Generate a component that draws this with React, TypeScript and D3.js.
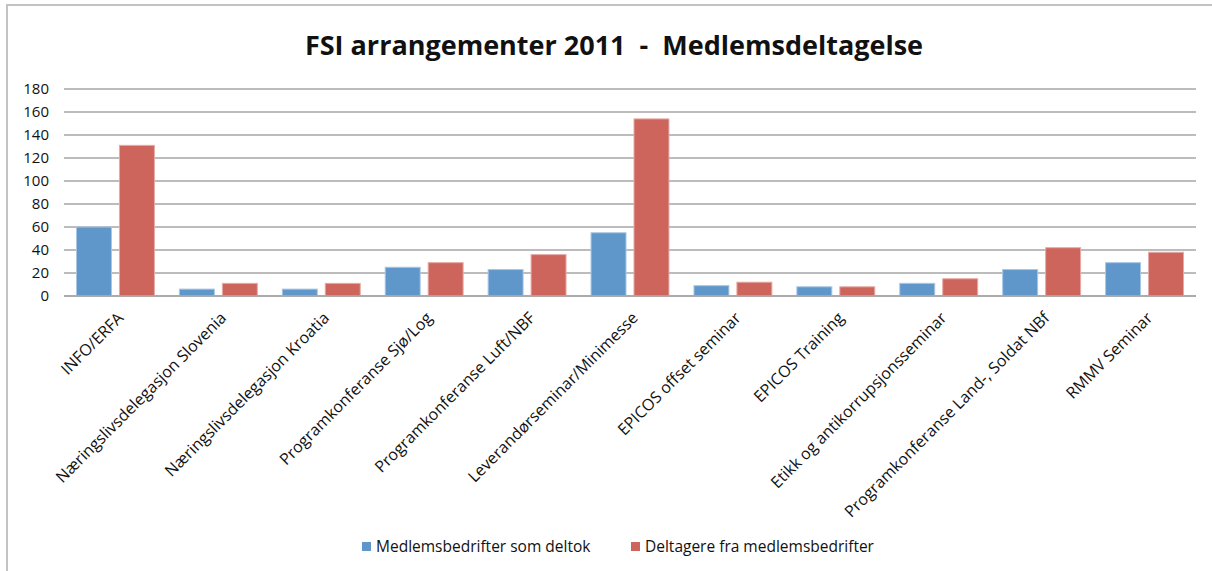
import React, { useEffect } from "react";
import * as d3 from "d3";

const categories = [
  "INFO/ERFA",
  "Næringslivsdelegasjon Slovenia",
  "Næringslivsdelegasjon Kroatia",
  "Programkonferanse Sjø/Log",
  "Programkonferanse Luft/NBF",
  "Leverandørseminar/Minimesse",
  "EPICOS offset seminar",
  "EPICOS Training",
  "Etikk og antikorrupsjonsseminar",
  "Programkonferanse Land-, Soldat NBf",
  "RMMV Seminar",
];
const seriesNames = ["Medlemsbedrifter som deltok", "Deltagere fra medlemsbedrifter"];
const medlemsbedrifter = [60, 6, 6, 25, 23, 55, 9, 8, 11, 23, 29];
const deltagere = [131, 11, 11, 29, 36, 154, 12, 8, 15, 42, 38];
const yTicks = [0, 20, 40, 60, 80, 100, 120, 140, 160, 180];
const title = "FSI arrangementer 2011  -  Medlemsdeltagelse";

const W = 1212;
const H = 571;
const colors = ["#5f97ca", "#cd655d"];
const strokes = ["#a9c6e4", "#e6aaa5"];
const FONT = "'Open Sans', 'DejaVu Sans', sans-serif";

export default function App() {
  useEffect(() => {
    document.body.style.margin = "0";
  }, []);

  const x0 = d3.scaleBand<string>().domain(categories).range([64, 1196]).padding(0);
  const step = x0.step();
  const x1 = d3
    .scaleBand<string>()
    .domain(["a", "b"])
    .range([12.5, step - 12.5])
    .paddingInner(0.186)
    .paddingOuter(0);
  const y = d3.scaleLinear().domain([0, 180]).range([296, 89]);
  const series = [medlemsbedrifter, deltagere];
  const keys = ["a", "b"];
  const legendX = [362, 631];

  return (
    <svg width={W} height={H} style={{ display: "block", background: "#fff" }}>
      {/* frame */}
      <line x1={6} x2={W} y1={5} y2={5} stroke="#c3c3c3" strokeWidth={2} />
      <line x1={7} x2={7} y1={5} y2={H} stroke="#c3c3c3" strokeWidth={2} />

      <text
        x={614}
        y={55}
        textAnchor="middle"
        fontFamily={FONT}
        fontWeight="bold"
        fontSize={27}
        fill="#111"
        style={{ whiteSpace: "pre" }}
        xmlSpace="preserve"
      >
        {title}
      </text>

      {/* gridlines */}
      {yTicks.map((t) => (
        <g key={t}>
          <line
            x1={64}
            x2={1196}
            y1={y(t)}
            y2={y(t)}
            stroke="#a6a6a6"
            strokeWidth={1.5}
          />
          <text
            x={49}
            y={y(t)}
            dy="0.36em"
            textAnchor="end"
            fontFamily={FONT}
            fontSize={15}
            fill="#111"
          >
            {t}
          </text>
        </g>
      ))}

      {/* bars */}
      {categories.map((c, i) => (
        <g key={c} transform={`translate(${x0(c)},0)`}>
          {series.map((s, j) => (
            <rect
              key={j}
              x={x1(keys[j])}
              y={y(s[i])}
              width={x1.bandwidth()}
              height={y(0) - y(s[i])}
              fill={colors[j]}
              stroke={strokes[j]}
              strokeWidth={1}
            />
          ))}
        </g>
      ))}

      {/* axis line */}
      <line x1={64} x2={1196} y1={y(0)} y2={y(0)} stroke="#a6a6a6" strokeWidth={1.5} />

      {/* x labels */}
      {categories.map((c) => {
        const cx = (x0(c) as number) + step / 2;
        return (
          <text
            key={c}
            transform={`translate(${cx + 5},${315}) rotate(-45)`}
            textAnchor="end"
            dy="0.35em"
            fontFamily={FONT}
            fontSize={16}
            fill="#111"
          >
            {c}
          </text>
        );
      })}

      {/* legend */}
      {seriesNames.map((n, j) => {
        const lx = legendX[j];
        return (
          <g key={n}>
            <rect x={lx} y={542} width={9} height={9} fill={colors[j]} />
            <text
              x={lx + 14}
              y={547}
              dy="0.35em"
              fontFamily={FONT}
              fontSize={15.5}
              fill="#111"
            >
              {n}
            </text>
          </g>
        );
      })}
    </svg>
  );
}
